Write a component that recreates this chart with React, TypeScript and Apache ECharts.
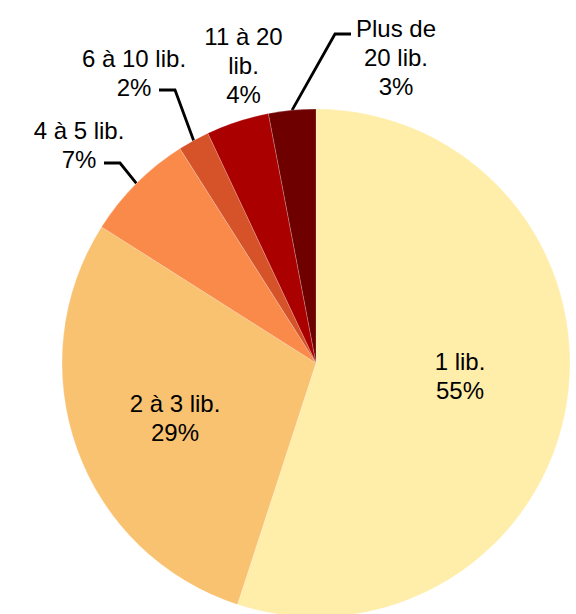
import React, { useEffect, useRef } from "react";
import * as echarts from "echarts";

// Share of items by number of "lib." per record
const categories = [
  "1 lib.",
  "2 à 3 lib.",
  "4 à 5 lib.",
  "6 à 10 lib.",
  "11 à 20\nlib.",
  "Plus de\n20 lib.",
];
const shares = [55, 29, 7, 2, 4, 3];
const sliceColors = ["#FFEDAA", "#F9C271", "#F98A4A", "#D65229", "#AB0000", "#6E0000"];

// Pie geometry (px)
const CX = 316;
const CY = 363;
const R = 254;

// Label block centres and leader-line bends, per slice
const labelPos: [number, number][] = [
  [460, 375.5],
  [175, 417.5],
  [79, 144.5],
  [134, 72.5],
  [243.5, 65],
  [396, 57.5],
];
const labelInside = [true, true, false, false, false, false];
const leaderBends: (number[][] | null)[] = [
  null,
  null,
  [[120, 163], [104, 163]],
  [[175, 90], [159, 90]],
  null,
  [[335, 34], [351, 34]],
];

function edgePoint(index: number): number[] {
  const total = shares.reduce((a, b) => a + b, 0);
  let before = 0;
  for (let i = 0; i < index; i++) before += shares[i];
  const mid = ((before + shares[index] / 2) / total) * Math.PI * 2;
  return [CX + R * Math.sin(mid), CY - R * Math.cos(mid)];
}

export default function App() {
  const ref = useRef<HTMLDivElement>(null);

  useEffect(() => {
    if (!ref.current) return;
    const chart = echarts.init(ref.current, undefined, { renderer: "svg" });

    const data = categories.map((name, i) => ({
      name,
      value: shares[i],
      itemStyle: { color: sliceColors[i] },
      label: { position: labelInside[i] ? "inside" : "outside" },
      labelLine: { show: !!leaderBends[i] },
    }));

    chart.setOption({
      animation: false,
      backgroundColor: "#ffffff",
      series: [
        {
          type: "pie",
          center: [CX, CY],
          radius: [0, R],
          startAngle: 90,
          clockwise: true,
          avoidLabelOverlap: false,
          itemStyle: { borderColor: "rgba(255,255,255,0.35)", borderWidth: 0.6 },
          label: {
            show: true,
            formatter: (p: any) => `${p.name}\n${p.value}%`,
            color: "#000000",
            fontFamily: "Liberation Sans, Arial, sans-serif",
            fontSize: 24,
            lineHeight: 29,
            align: "center",
          },
          labelLine: {
            show: true,
            smooth: false,
            lineStyle: { color: "#000000", width: 2.8 },
          },
          labelLayout: (params: any) => {
            const i = params.dataIndex;
            const [x, y] = labelPos[i];
            const out: any = { x, y, align: "center", verticalAlign: "middle" };
            const bends = leaderBends[i];
            if (bends) out.labelLinePoints = [edgePoint(i), ...bends];
            return out;
          },
          data,
        },
      ],
    });

    return () => chart.dispose();
  }, []);

  return (
    <div
      ref={ref}
      style={{ position: "fixed", left: 0, top: 0, width: 576, height: 614, background: "#fff" }}
    />
  );
}
